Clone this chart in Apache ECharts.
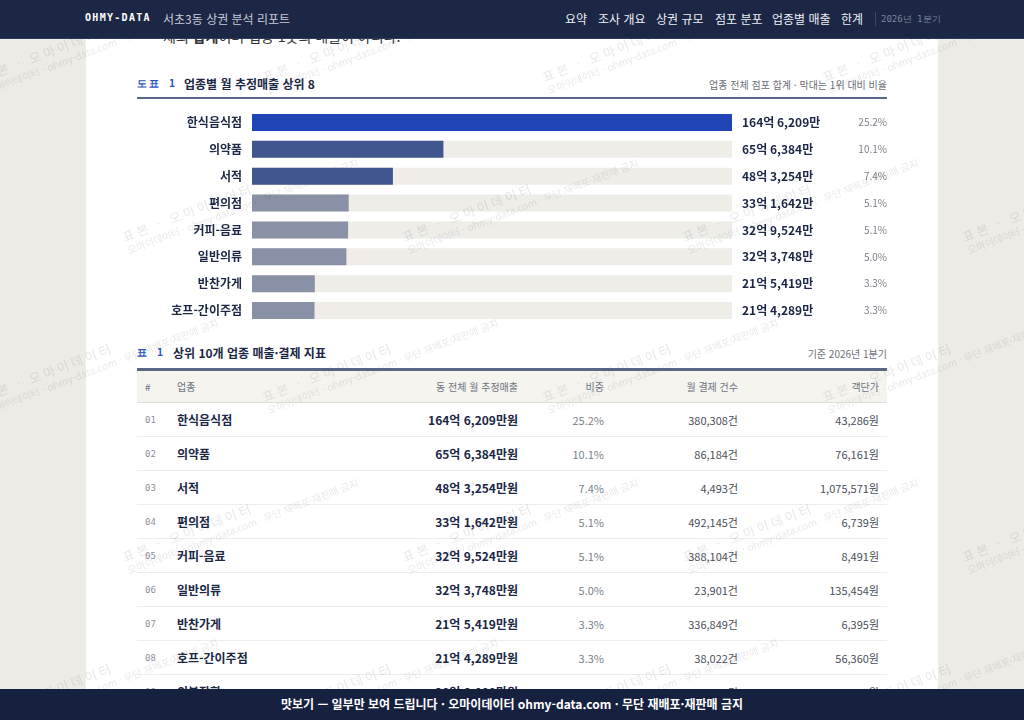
<!DOCTYPE html>
<html lang="ko">
<head>
<meta charset="utf-8">
<title>서초3동 상권 분석 리포트</title>
<script src="https://cdn.jsdelivr.net/npm/echarts@6/dist/echarts.min.js"></script>
<style>
  html, body { margin: 0; padding: 0; }
  body {
    width: 1024px; height: 720px; overflow: hidden; position: relative;
    background: #ecebe6;
    font-family: "Noto Sans CJK KR", "Noto Sans", sans-serif;
    color: #1b2745;
  }
  #page { position: absolute; left: 86px; top: 0; width: 852px; height: 720px; background: #fff; }
  #nav {
    position: absolute; left: 0; top: 0; width: 1024px; height: 38px;
    background: #1b2745; z-index: 5; border-bottom: 1px solid #2d3a5c;
  }
  #nav .brand { position: absolute; left: 85px; top: 12px; font: bold 10px "DejaVu Sans Mono", monospace; letter-spacing: 1.3px; color: #fff; }
  #nav .sub { position: absolute; left: 163px; top: 10px; font-size: 12px; color: #c5cbd8; }
  #nav .item { position: absolute; top: 10px; font-size: 12px; color: #eef0f5; }
  #nav .sep { position: absolute; left: 875px; top: 12px; width: 1px; height: 14px; background: #3d4866; }
  #nav .period { position: absolute; left: 881px; top: 13px; font: 9px "DejaVu Sans Mono", monospace; color: #7c859b; }
  #lead { position: absolute; left: 163px; top: 26px; font-size: 14px; color: #333; white-space: nowrap; }
  .cap { position: absolute; left: 137px; font: bold 10px "DejaVu Sans Mono", monospace; letter-spacing: 2px; color: #2a52c4; }
  .ttl { position: absolute; font-size: 12px; font-weight: bold; color: #1b2745; }
  .note { position: absolute; right: 137px; font-size: 10px; color: #6b6f78; }
  .rule { position: absolute; left: 137px; width: 750px; height: 2px; background: #5a6685; }
  #chart { position: absolute; left: 86px; top: 105px; width: 852px; height: 220px; }
  #tbl { position: absolute; left: 137px; top: 371px; width: 750px; border-collapse: collapse; }
  #tbl th { height: 31px; background: #f5f4ef; font-size: 10px; font-weight: normal; color: #6e7380; border-bottom: 1px solid #e2dfd6; padding: 0 8px; }
  #tbl td { height: 33px; border-bottom: 1px solid #efede8; padding: 0 8px; font-size: 11px; color: #4a4f5a; white-space: nowrap; }
  #tbl .r { text-align: right; }
  #tbl .l { text-align: left; }
  #tbl td.no { font: 9px "DejaVu Sans Mono", monospace; color: #8a8f99; width: 16px; }
  #tbl td.nm { font-size: 12px; font-weight: bold; color: #1b2745; }
  #tbl td.amt { font-size: 12px; font-weight: bold; color: #1b2745; }
  #tbl td.sh { color: #7a7f88; }
  #foot {
    position: absolute; left: 0; top: 689px; width: 1024px; height: 31px;
    background: #16213f; z-index: 5; color: #fff; font-size: 12px; font-weight: bold;
    text-align: center; line-height: 29px;
  }
  #wm { position: absolute; left: 0; top: 0; width: 1024px; height: 720px; pointer-events: none; z-index: 4; overflow: hidden; }
  .wm { position: absolute; transform: rotate(-21deg); transform-origin: left top; color: rgba(80,80,90,0.13); white-space: nowrap; line-height: 1.25; }
  .wm .a { font-size: 13px; letter-spacing: 3px; }
  .wm .b { font-size: 10px; }
</style>
</head>
<body>
<div id="page"></div>
<div id="lead">체의 <b>합계</b>이며 업종 1곳의 매출이 아니다.</div>
<div id="nav">
  <span class="brand">OHMY-DATA</span>
  <span class="sub">서초3동 상권 분석 리포트</span>
  <span class="item" style="left:565px">요약</span>
  <span class="item" style="left:598px">조사 개요</span>
  <span class="item" style="left:656px">상권 규모</span>
  <span class="item" style="left:715px">점포 분포</span>
  <span class="item" style="left:772px">업종별 매출</span>
  <span class="item" style="left:841px">한계</span>
  <span class="sep"></span>
  <span class="period">2026년 1분기</span>
</div>

<div class="cap" style="top:77px">도표 1</div>
<div class="ttl" style="left:184px;top:75px">업종별 월 추정매출 상위 8</div>
<div class="note" style="top:77px">업종 전체 점포 합계 · 막대는 1위 대비 비율</div>
<div class="rule" style="top:97px"></div>
<div id="chart"></div>

<div class="cap" style="top:346px">표 1</div>
<div class="ttl" style="left:173px;top:344px">상위 10개 업종 매출·결제 지표</div>
<div class="note" style="top:346px">기준 2026년 1분기</div>
<div class="rule" style="top:368px;height:3px"></div>
<table id="tbl"></table>

<div id="foot">맛보기 — 일부만 보여 드립니다 · 오마이데이터 ohmy-data.com · 무단 재배포·재판매 금지</div>
<div id="wm"></div>

<script>
// 업종별 월 추정매출 (단위: 만원)
var categories = ['한식음식점', '의약품', '서적', '편의점', '커피-음료', '일반의류', '반찬가게', '호프-간이주점'];
var sales = [1646209, 656384, 483254, 331642, 329524, 323748, 215419, 214289];
var shares = [25.2, 10.1, 7.4, 5.1, 5.1, 5.0, 3.3, 3.3];
var payCounts = [380308, 86184, 4493, 492145, 388104, 23901, 336849, 38022];
var unitPrices = [43286, 76161, 1075571, 6739, 8491, 135454, 6395, 56360];

// 9위 행은 하단 띠에 거의 가려져 있어 추정값
var row9 = { name: '의복잡화', sales: 208000, share: 3.2, count: 41000, price: 50700 };

var headers = ['#', '업종', '동 전체 월 추정매출', '비중', '월 결제 건수', '객단가'];

function fmtNum(n) {
    return String(n).replace(/\B(?=(\d{3})+(?!\d))/g, ',');
}
function fmtEok(v) {
    var eok = Math.floor(v / 10000);
    var man = v % 10000;
    return eok + '억 ' + fmtNum(man) + '만';
}

var colors = ['#1f44b5', '#41568e', '#41568e', '#8891a6', '#8891a6', '#8891a6', '#8891a6', '#8891a6'];

var myChart = echarts.init(document.getElementById('chart'));
var option = {
    animation: false,
    grid: { left: 166, right: 206, top: 4, height: 215 },
    xAxis: {
        type: 'value', min: 0, max: sales[0],
        show: false
    },
    yAxis: [
        {
            type: 'category', inverse: true, data: categories,
            axisLine: { show: false }, axisTick: { show: false },
            axisLabel: {
                margin: 10, fontSize: 12, fontWeight: 'bold', color: '#1b2745',
                fontFamily: 'Noto Sans CJK KR'
            }
        },
        {
            type: 'category', inverse: true, position: 'right', data: categories,
            axisLine: { show: false }, axisTick: { show: false },
            axisLabel: {
                margin: 10, align: 'left',
                formatter: function (val, i) {
                    return '{v|' + fmtEok(sales[i]) + '}{p|' + shares[i].toFixed(1) + '%}';
                },
                rich: {
                    v: { width: 107, fontSize: 12, fontWeight: 'bold', color: '#1b2745', fontFamily: 'Noto Sans CJK KR' },
                    p: { width: 38, align: 'right', fontSize: 10, color: '#7a7f88', fontFamily: 'Noto Sans CJK KR' }
                }
            }
        }
    ],
    series: [
        {
            type: 'bar',
            data: sales,
            barWidth: 17,
            showBackground: true,
            backgroundStyle: { color: '#eeede8' },
            itemStyle: {
                color: function (p) { return colors[p.dataIndex]; }
            }
        }
    ]
};
myChart.setOption(option);

// 표 만들기
var tbl = document.getElementById('tbl');
var html = '<tr>' +
    '<th class="l" style="width:16px">' + headers[0] + '</th>' +
    '<th class="l">' + headers[1] + '</th>' +
    '<th class="r">' + headers[2] + '</th>' +
    '<th class="r" style="width:70px">' + headers[3] + '</th>' +
    '<th class="r" style="width:118px">' + headers[4] + '</th>' +
    '<th class="r" style="width:125px">' + headers[5] + '</th></tr>';
var rows = categories.map(function (c, i) {
    return { name: c, sales: sales[i], share: shares[i], count: payCounts[i], price: unitPrices[i] };
});
rows.push(row9);
rows.forEach(function (r, i) {
    html += '<tr>' +
        '<td class="no">' + (i < 9 ? '0' : '') + (i + 1) + '</td>' +
        '<td class="nm">' + r.name + '</td>' +
        '<td class="r amt">' + fmtEok(r.sales) + '원</td>' +
        '<td class="r sh">' + r.share.toFixed(1) + '%</td>' +
        '<td class="r">' + fmtNum(r.count) + '건</td>' +
        '<td class="r">' + fmtNum(r.price) + '원</td></tr>';
});
tbl.innerHTML = html;

// 워터마크
var wm = document.getElementById('wm');
var wmHtml = '';
for (var y = 70; y < 760; y += 160) {
    for (var x = -20; x < 1040; x += 280) {
        var ox = ((y - 70) / 160) % 2 ? 140 : 0;
        wmHtml += '<div class="wm" style="left:' + (x + ox) + 'px;top:' + y + 'px">' +
            '<div class="a">표본 · 오마이데이터</div>' +
            '<div class="b">오마이데이터 · ohmy-data.com · 무단 재배포·재판매 금지</div></div>';
    }
}
wm.innerHTML = wmHtml;
</script>
</body>
</html>
